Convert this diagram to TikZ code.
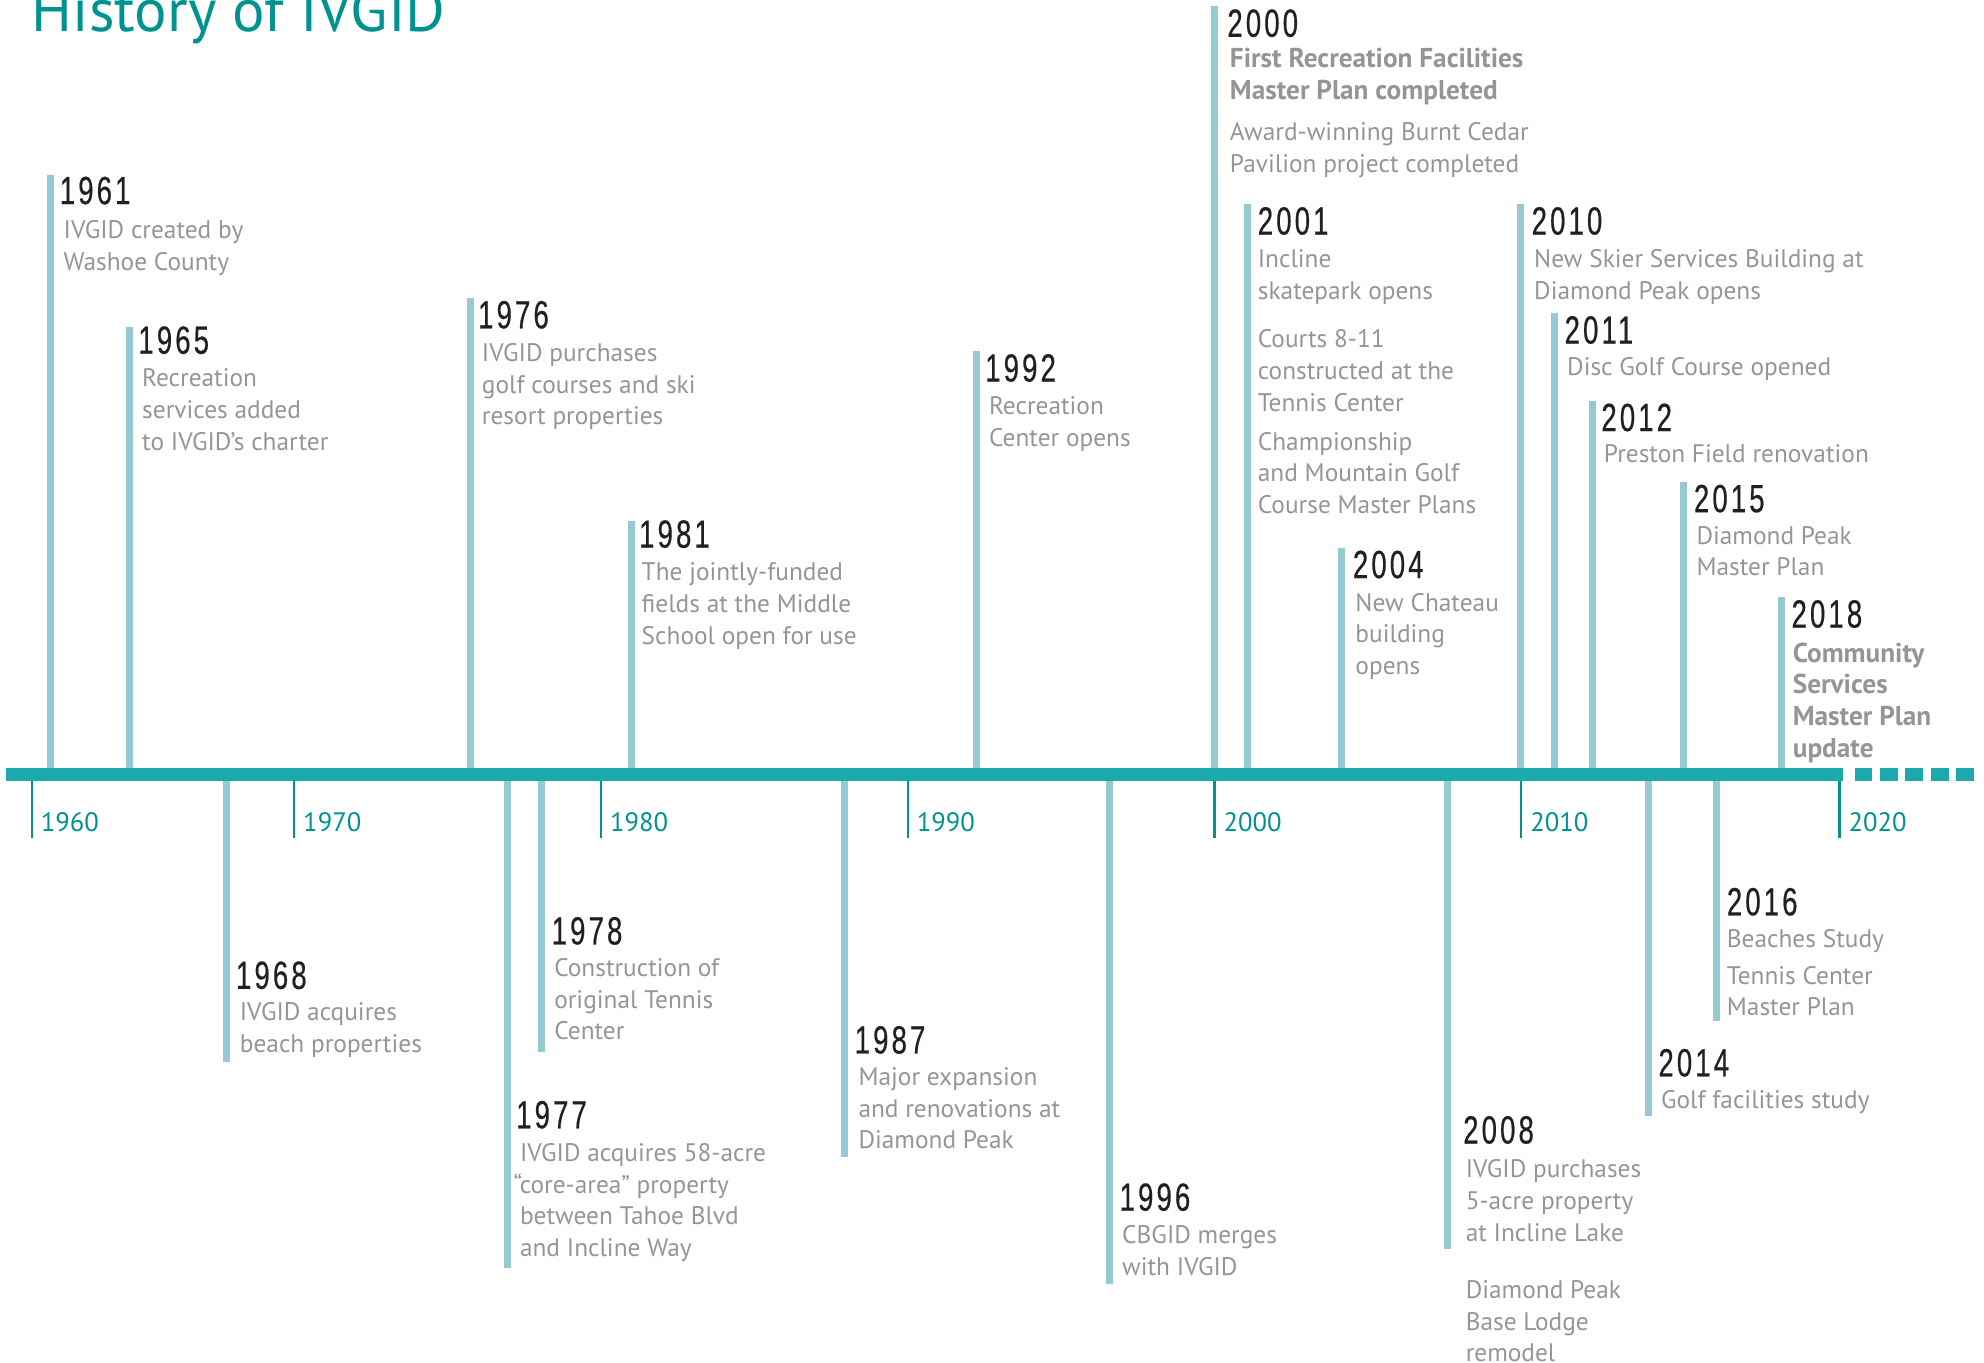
\documentclass[tikz,border=0pt]{standalone}
\usepackage{fontspec}
\setmainfont{PT Sans}
\newfontfamily\yearfont[FakeStretch=0.7,LetterSpace=8,FakeBold=0.5]{Liberation Sans}
\definecolor{titlec}{HTML}{00928F}
\definecolor{axisc}{HTML}{1BA9AE}
\definecolor{barc}{HTML}{95CBD0}
\definecolor{tickc}{HTML}{00928F}
\definecolor{yearc}{HTML}{231F20}
\definecolor{descc}{HTML}{939598}
\newcommand\fst{\rule{0pt}{18pt}}
\tikzset{
  bar/.style={line width=5.5pt, draw=barc},
  axisline/.style={line width=10pt, draw=axisc},
  tickline/.style={line width=1.6pt, draw=tickc},
  yr/.style={font=\yearfont\fontsize{31}{31}\selectfont, text=yearc, anchor=base west, inner sep=0pt},
  ds/.style={font=\fontsize{20}{25}\selectfont, text=descc, align=left, anchor=north west, inner sep=0pt},
  dsb/.style={ds, font=\bfseries\fontsize{21.5}{25}\selectfont},
  ticklab/.style={font=\fontsize{21}{21}\selectfont, text=tickc, anchor=base west, inner sep=0pt},
}
\begin{document}
\begin{tikzpicture}[x=1pt,y=-1pt]
\useasboundingbox (0,0) rectangle (1565,1075);
% title
\node[font=\fontsize{48}{48}\selectfont, text=titlec, anchor=base west, inner sep=0pt] (title) at (25,25) {History of IVGID};
% axis
\coordinate (ax0) at (5,611);
\coordinate (ax1) at (1454,611);
\coordinate (ax2) at (1463,611);
\coordinate (ax3) at (1560,611);
\draw[axisline] (ax0) -- (ax1);
\draw[axisline, dash pattern=on 14pt off 6pt] (ax2) -- (ax3);
% decade ticks
\foreach \x/\lab in {25/1960,232/1970,474/1980,716/1990,958/2000,1200/2010,1451/2020}{
  \coordinate (t\lab a) at (\x,616);
  \coordinate (t\lab b) at (\x,661);
  \draw[tickline] (t\lab a) -- (t\lab b);
  \node[ticklab] (l\lab) at (\x+7,656) {\lab};
}
% ---------- events above the axis ----------
% 1961
\coordinate (b1961t) at (40,138); \coordinate (b1961a) at (40,606);
\draw[bar] (b1961t) -- (b1961a);
\node[yr] (y1961) at (47,161) {1961};
\node[ds] (d1961) at (50,170) {\fst IVGID created by\\Washoe County};
% 1965
\coordinate (b1965t) at (102,258); \coordinate (b1965a) at (102,606);
\draw[bar] (b1965t) -- (b1965a);
\node[yr] (y1965) at (109,279) {1965};
\node[ds] (d1965) at (112,287) {\fst Recreation\\services added\\to IVGID’s charter};
% 1976
\coordinate (b1976t) at (371,235); \coordinate (b1976a) at (371,606);
\draw[bar] (b1976t) -- (b1976a);
\node[yr] (y1976) at (377,259) {1976};
\node[ds] (d1976) at (380,267) {\fst IVGID purchases\\golf courses and ski\\resort properties};
% 1981
\coordinate (b1981t) at (498,411); \coordinate (b1981a) at (498,606);
\draw[bar] (b1981t) -- (b1981a);
\node[yr] (y1981) at (504,432) {1981};
\node[ds] (d1981) at (506,440) {\fst The jointly-funded\\fields at the Middle\\School open for use};
% 1992
\coordinate (b1992t) at (770,277); \coordinate (b1992a) at (770,606);
\draw[bar] (b1992t) -- (b1992a);
\node[yr] (y1992) at (777,301) {1992};
\node[ds] (d1992) at (780,309) {\fst Recreation\\Center opens};
% 2000
\coordinate (b2000t) at (958,5); \coordinate (b2000a) at (958,606);
\draw[bar] (b2000t) -- (b2000a);
\node[yr] (y2000) at (968,29) {2000};
\node[dsb] (d2000a) at (970,35) {\fst First Recreation Facilities\\Master Plan completed};
\node[ds] (d2000b) at (970,93) {\fst Award-winning Burnt Cedar\\Pavilion project completed};
% 2001
\coordinate (b2001t) at (984,161); \coordinate (b2001a) at (984,606);
\draw[bar] (b2001t) -- (b2001a);
\node[yr] (y2001) at (992,185) {2001};
\node[ds] (d2001) at (992,193) {\fst Incline\\skatepark opens\\[13pt]Courts 8-11\\constructed at the\\Tennis Center\\[6pt]Championship\\and Mountain Golf\\Course Master Plans};
% 2004
\coordinate (b2004t) at (1058,432); \coordinate (b2004a) at (1058,606);
\draw[bar] (b2004t) -- (b2004a);
\node[yr] (y2004) at (1067,456) {2004};
\node[ds] (d2004) at (1069,464) {\fst New Chateau\\building\\opens};
% 2010
\coordinate (b2010t) at (1199,161); \coordinate (b2010a) at (1199,606);
\draw[bar] (b2010t) -- (b2010a);
\node[yr] (y2010) at (1208,185) {2010};
\node[ds] (d2010) at (1210,193) {\fst New Skier Services Building at\\Diamond Peak opens};
% 2011
\coordinate (b2011t) at (1226,247); \coordinate (b2011a) at (1226,606);
\draw[bar] (b2011t) -- (b2011a);
\node[yr] (y2011) at (1234,271) {2011};
\node[ds] (d2011) at (1236,278) {\fst Disc Golf Course opened};
% 2012
\coordinate (b2012t) at (1256,316); \coordinate (b2012a) at (1256,606);
\draw[bar] (b2012t) -- (b2012a);
\node[yr] (y2012) at (1263,340) {2012};
\node[ds] (d2012) at (1265,347) {\fst Preston Field renovation};
% 2015
\coordinate (b2015t) at (1328,380); \coordinate (b2015a) at (1328,606);
\draw[bar] (b2015t) -- (b2015a);
\node[yr] (y2015) at (1336,404) {2015};
\node[ds] (d2015) at (1338,411) {\fst Diamond Peak\\Master Plan};
% 2018
\coordinate (b2018t) at (1405,471); \coordinate (b2018a) at (1405,606);
\draw[bar] (b2018t) -- (b2018a);
\node[yr] (y2018) at (1413,495) {2018};
\node[dsb] (d2018) at (1414,504) {\fst Community\\Services\\Master Plan\\update};
% ---------- events below the axis ----------
% 1968
\coordinate (b1968a) at (179,616); \coordinate (b1968b) at (179,838);
\draw[bar] (b1968a) -- (b1968b);
\node[yr] (y1968) at (186,780) {1968};
\node[ds] (d1968) at (189,787) {\fst IVGID acquires\\beach properties};
% 1977
\coordinate (b1977a) at (400,616); \coordinate (b1977b) at (400,1000);
\draw[bar] (b1977a) -- (b1977b);
\node[yr] (y1977) at (407,890) {1977};
\node[ds] (d1977) at (410,898) {\fst IVGID acquires 58-acre\\\hspace*{-5pt}“core-area” property\\between Tahoe Blvd\\and Incline Way};
% 1978
\coordinate (b1978a) at (427,616); \coordinate (b1978b) at (427,830);
\draw[bar] (b1978a) -- (b1978b);
\node[yr] (y1978) at (435,745) {1978};
\node[ds] (d1978) at (437,752) {\fst Construction of\\original Tennis\\Center};
% 1987
\coordinate (b1987a) at (666,616); \coordinate (b1987b) at (666,913);
\draw[bar] (b1987a) -- (b1987b);
\node[yr] (y1987) at (674,831) {1987};
\node[ds] (d1987) at (677,838) {\fst Major expansion\\and renovations at\\Diamond Peak};
% 1996
\coordinate (b1996a) at (875,616); \coordinate (b1996b) at (875,1013);
\draw[bar] (b1996a) -- (b1996b);
\node[yr] (y1996) at (883,955) {1996};
\node[ds] (d1996) at (885,963) {\fst CBGID merges\\with IVGID};
% 2008
\coordinate (b2008a) at (1142,616); \coordinate (b2008b) at (1142,985);
\draw[bar] (b2008a) -- (b2008b);
\node[yr] (y2008) at (1154,902) {2008};
\node[ds] (d2008) at (1156,911) {\fst IVGID purchases\\5-acre property\\at Incline Lake\\[20pt]Diamond Peak\\Base Lodge\\remodel};
% 2014
\coordinate (b2014a) at (1300,616); \coordinate (b2014b) at (1300,880);
\draw[bar] (b2014a) -- (b2014b);
\node[yr] (y2014) at (1308,849) {2014};
\node[ds] (d2014) at (1310,856) {\fst Golf facilities study};
% 2016
\coordinate (b2016a) at (1354,616); \coordinate (b2016b) at (1354,805);
\draw[bar] (b2016a) -- (b2016b);
\node[yr] (y2016) at (1362,722) {2016};
\node[ds] (d2016) at (1362,729) {\fst Beaches Study\\[4pt]Tennis Center\\Master Plan};
\end{tikzpicture}
\end{document}
